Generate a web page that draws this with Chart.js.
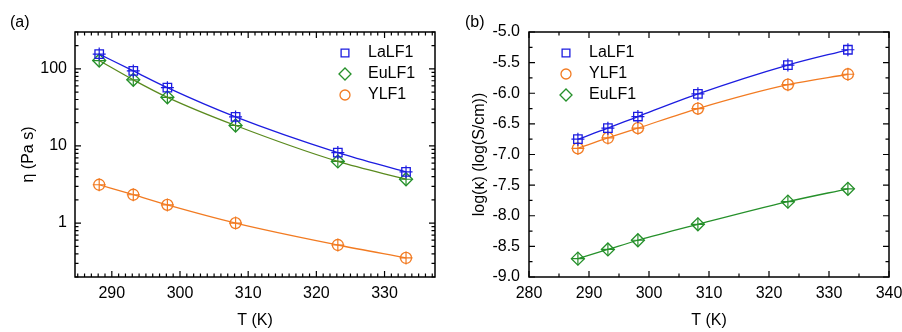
<!DOCTYPE html>
<html>
<head>
<meta charset="utf-8">
<script src="https://cdn.jsdelivr.net/npm/chart.js@4.4.1/dist/chart.umd.min.js"></script>
<style>
html, body { margin: 0; padding: 0; background: #fff; overflow: hidden; }
#wrap { position: relative; width: 902px; height: 332px; overflow: hidden; }
#c1 { position: absolute; left: 0; top: 0; }
#c2 { position: absolute; left: 451px; top: 0; }
</style>
</head>
<body>
<div id="wrap">
  <canvas id="c1" width="451" height="332"></canvas>
  <canvas id="c2" width="480" height="332"></canvas>
</div>
<script>
// data
const temps = [288.15, 293.15, 298.15, 308.15, 323.15, 333.15];

// (a) viscosity, Pa s
const viscLa = [155, 94, 57, 23.8, 8.2, 4.6];
const viscEu = [128, 72, 42.7, 18.4, 6.3, 3.7];
const viscY = [3.14, 2.33, 1.72, 1.0, 0.52, 0.353];

// (b) log conductivity
const logKLa = [-6.75, -6.57, -6.38, -6.01, -5.54, -5.29];
const logKY = [-6.90, -6.73, -6.57, -6.25, -5.86, -5.69];
const logKEu = [-8.70, -8.55, -8.40, -8.14, -7.77, -7.56];

const xTicksA = [290, 300, 310, 320, 330];
const yTicksA = [1, 10, 100];
const xTicksB = [280, 290, 300, 310, 320, 330, 340];
const yTicksB = [-9.0, -8.5, -8.0, -7.5, -7.0, -6.5, -6.0, -5.5, -5.0];

const BLUE = '#1c1ce0';
const GREEN = '#25902a';
const OLIVE = '#5a8a1e';
const ORANGE = '#f27b22';
const FONT = '"Liberation Sans", Arial, sans-serif';

function series(label, ys, color, lineColor, style, r) {
    let pts = temps.map((t, i) => ({x: t, y: ys[i]}));
    return [{
        label: label,
        data: pts,
        showLine: true,
        cubicInterpolationMode: 'monotone',
        borderColor: lineColor,
        borderWidth: 1.3,
        pointStyle: style,
        pointRadius: r,
        pointBorderColor: color,
        pointBackgroundColor: 'rgba(0,0,0,0)',
        pointBorderWidth: 1.3,
        fill: false
    }, {
        // error bar crosses
        label: label + ' err',
        data: pts,
        showLine: false,
        pointStyle: 'cross',
        pointRadius: 6.5,
        pointBorderColor: color,
        pointBorderWidth: 1.2
    }];
}

// inward tick marks on all four sides + frame
function linMarks(min, max, step, majorEvery) {
    let out = [];
    let i0 = Math.ceil(min / step - 1e-9), i1 = Math.floor(max / step + 1e-9);
    for (let i = i0; i <= i1; i++) {
        out.push({v: i * step, major: i % majorEvery === 0});
    }
    return out;
}

function logMarks(min, max) {
    let out = [];
    for (let d = -2; d <= 4; d++) {
        for (let m = 1; m <= 9; m++) {
            let v = m * Math.pow(10, d);
            if (v >= min * 0.999 && v <= max * 1.001) out.push({v: v, major: m === 1});
        }
    }
    return out;
}

const framePlugin = {
    id: 'frame',
    afterDraw(chart, args, opts) {
        let ctx = chart.ctx;
        let a = chart.chartArea;
        let xs = chart.scales.x, ys = chart.scales.y;
        ctx.save();
        ctx.strokeStyle = '#000';
        ctx.lineWidth = 1.5;
        ctx.strokeRect(a.left, a.top, a.right - a.left, a.bottom - a.top);
        ctx.lineWidth = 1.2;
        ctx.beginPath();
        opts.xMarks.forEach(m => {
            let px = xs.getPixelForValue(m.v);
            let len = m.major ? 6 : 3.5;
            ctx.moveTo(px, a.bottom); ctx.lineTo(px, a.bottom - len);
            ctx.moveTo(px, a.top); ctx.lineTo(px, a.top + len);
        });
        opts.yMarks.forEach(m => {
            let py = ys.getPixelForValue(m.v);
            let len = m.major ? 6 : 3.5;
            ctx.moveTo(a.left, py); ctx.lineTo(a.left + len, py);
            ctx.moveTo(a.right, py); ctx.lineTo(a.right - len, py);
        });
        ctx.stroke();
        // panel letter
        ctx.fillStyle = '#000';
        ctx.font = '16px ' + FONT;
        ctx.textBaseline = 'middle';
        ctx.fillText(opts.letter, opts.lx, 23);
        ctx.restore();
    }
};

const legendPlugin = {
    id: 'inLegend',
    afterDraw(chart, args, opts) {
        let ctx = chart.ctx;
        ctx.save();
        ctx.font = '16px ' + FONT;
        ctx.textBaseline = 'middle';
        opts.items.forEach((it, i) => {
            let y = opts.y + i * opts.dy;
            ctx.strokeStyle = it.color;
            ctx.fillStyle = 'rgba(0,0,0,0)';
            ctx.lineWidth = 1.3;
            Chart.helpers.drawPoint(ctx, {pointStyle: it.style, radius: it.r, borderWidth: 1.3, rotation: 0}, opts.x, y);
            ctx.fillStyle = '#000';
            ctx.fillText(it.label, opts.tx, y);
        });
        ctx.restore();
    }
};

function axisFont() {
    return {size: 16, family: FONT};
}

function makeChart(id, datasets, scales, frameOpts, legendOpts, padRight) {
    return new Chart(document.getElementById(id).getContext('2d'), {
        type: 'scatter',
        data: {datasets: datasets},
        options: {
            responsive: false,
            animation: false,
            layout: {padding: {top: 32, left: 0, right: padRight, bottom: 0}},
            plugins: {
                legend: {display: false},
                tooltip: {enabled: false},
                frame: frameOpts,
                inLegend: legendOpts
            },
            scales: scales
        },
        plugins: [framePlugin, legendPlugin]
    });
}

function xAxis(min, max, tickList) {
    return {
        type: 'linear', min: min, max: max,
        grid: {display: false, drawTicks: false},
        border: {display: false},
        afterBuildTicks: s => { s.ticks = tickList.map(v => ({value: v})); },
        afterFit: s => { s.height = 55; },
        ticks: {font: axisFont(), color: '#000', padding: 7, maxRotation: 0, autoSkip: false},
        title: {display: true, text: 'T (K)', font: axisFont(), color: '#000', padding: {top: 0, bottom: 2}}
    };
}

// (a) viscosity
let dsA = [].concat(
    series('LaLF1', viscLa, BLUE, BLUE, 'rect', 6),
    series('EuLF1', viscEu, GREEN, OLIVE, 'rectRot', 6.5),
    series('YLF1', viscY, ORANGE, ORANGE, 'circle', 5.5)
);
let Chart1 = makeChart('c1', dsA, {
    x: xAxis(284.6, 337.4, xTicksA),
    y: {
        type: 'logarithmic', min: 0.2, max: 300,
        grid: {display: false, drawTicks: false},
        border: {display: false},
        afterBuildTicks: s => { s.ticks = yTicksA.map(v => ({value: v})); },
        afterFit: s => { s.width = 75; },
        ticks: {font: axisFont(), color: '#000', padding: 8, callback: v => String(v)},
        title: {display: true, text: 'η (Pa s)', font: axisFont(), color: '#000', padding: {top: 19, bottom: 0}}
    }
}, {
    xMarks: linMarks(284.6, 337.4, 1, 10),
    yMarks: logMarks(0.2, 300),
    letter: '(a)', lx: 10
}, {
    x: 345, tx: 368, y: 53, dy: 21,
    items: [
        {label: 'LaLF1', color: BLUE, style: 'rect', r: 5.5},
        {label: 'EuLF1', color: GREEN, style: 'rectRot', r: 6},
        {label: 'YLF1', color: ORANGE, style: 'circle', r: 5}
    ]
}, 16);

// (b) conductivity
let dsB = [].concat(
    series('LaLF1', logKLa, BLUE, BLUE, 'rect', 6),
    series('YLF1', logKY, ORANGE, ORANGE, 'circle', 5.5),
    series('EuLF1', logKEu, GREEN, GREEN, 'rectRot', 6.5)
);
let Chart2 = makeChart('c2', dsB, {
    x: xAxis(280, 340, xTicksB),
    y: {
        type: 'linear', min: -9, max: -5,
        grid: {display: false, drawTicks: false},
        border: {display: false},
        afterBuildTicks: s => { s.ticks = yTicksB.map(v => ({value: v})); },
        afterFit: s => { s.width = 78; },
        ticks: {font: axisFont(), color: '#000', padding: 9, callback: v => v.toFixed(1)},
        title: {display: true, text: 'log(κ) (log(S/cm))', font: axisFont(), color: '#000', padding: {top: 19, bottom: 0}}
    }
}, {
    xMarks: linMarks(280, 340, 5, 2),
    yMarks: linMarks(-9, -5, 0.25, 2),
    letter: '(b)', lx: 14
}, {
    x: 115, tx: 138, y: 53, dy: 21,
    items: [
        {label: 'LaLF1', color: BLUE, style: 'rect', r: 5.5},
        {label: 'YLF1', color: ORANGE, style: 'circle', r: 5},
        {label: 'EuLF1', color: GREEN, style: 'rectRot', r: 6}
    ]
}, 42);
</script>
</body>
</html>
